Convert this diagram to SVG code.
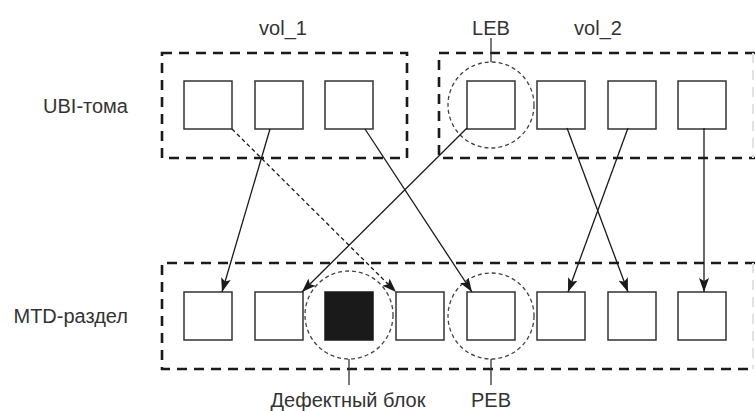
<svg xmlns="http://www.w3.org/2000/svg" width="755" height="411" viewBox="0 0 755 411">
  <defs>
    <marker id="arrow" viewBox="0 0 14 10" refX="14" refY="5" markerWidth="14" markerHeight="10" markerUnits="userSpaceOnUse" orient="auto">
      <path d="M0,0 L14,5 L0,10 L3,5 Z" fill="#1a1a1a"/>
    </marker>
  </defs>
  <style>
    .label { font-family: "Liberation Sans", Arial, sans-serif; font-size: 20px; fill: #333; }
    .group { fill: none; stroke: #1a1a1a; stroke-width: 2.6; stroke-dasharray: 10 7; }
    .group-edge { fill: none; stroke: #e2e2e2; stroke-width: 2; stroke-dasharray: 10 7; }
    .block { fill: #fff; stroke: #333; stroke-width: 1.5; }
    .bad { fill: #1a1a1a; stroke: #1a1a1a; stroke-width: 1.5; }
    .ring { fill: none; stroke: #444; stroke-width: 1.3; stroke-dasharray: 4 3; }
    .tick { stroke: #333; stroke-width: 1.3; }
    .link { fill: none; stroke: #1a1a1a; stroke-width: 1.3; marker-end: url(#arrow); }
    .link.dashed { stroke-dasharray: 4 3; }
  </style>

  <rect width="755" height="411" fill="#fff"/>

  <!-- row labels -->
  <text class="label" x="128" y="113" text-anchor="end">UBI-тома</text>
  <text class="label" x="128" y="323" text-anchor="end">MTD-раздел</text>

  <!-- volume and partition outlines -->
  <g id="vol_1">
    <rect class="group" x="162" y="53" width="245" height="105"/>
    <text class="label" x="283" y="35" text-anchor="middle">vol_1</text>
  </g>
  <g id="vol_2">
    <path class="group" d="M755,53 H439 V158 H755"/>
    <line class="group-edge" x1="753" y1="53" x2="753" y2="158"/>
    <text class="label" x="598" y="35" text-anchor="middle">vol_2</text>
  </g>
  <g id="mtd">
    <path class="group" d="M755,263 H162 V369 H755"/>
    <line class="group-edge" x1="753" y1="263" x2="753" y2="369"/>
  </g>

  <!-- logical eraseblocks -->
  <g id="leb-1-0"><rect class="block" x="184" y="81" width="48" height="48"/></g>
  <g id="leb-1-1"><rect class="block" x="255" y="81" width="48" height="48"/></g>
  <g id="leb-1-2"><rect class="block" x="325" y="81" width="48" height="48"/></g>
  <g id="leb-2-0"><rect class="block" x="467" y="81" width="48" height="48"/></g>
  <g id="leb-2-1"><rect class="block" x="537" y="81" width="48" height="48"/></g>
  <g id="leb-2-2"><rect class="block" x="608" y="81" width="48" height="48"/></g>
  <g id="leb-2-3"><rect class="block" x="678" y="81" width="48" height="48"/></g>

  <!-- physical eraseblocks -->
  <g id="peb-0"><rect class="block" x="184" y="292" width="48" height="48"/></g>
  <g id="peb-1"><rect class="block" x="255" y="292" width="48" height="48"/></g>
  <g id="peb-2"><rect class="bad" x="325" y="292" width="48" height="48"/></g>
  <g id="peb-3"><rect class="block" x="396" y="292" width="48" height="48"/></g>
  <g id="peb-4"><rect class="block" x="467" y="292" width="48" height="48"/></g>
  <g id="peb-5"><rect class="block" x="537" y="292" width="48" height="48"/></g>
  <g id="peb-6"><rect class="block" x="608" y="292" width="48" height="48"/></g>
  <g id="peb-7"><rect class="block" x="678" y="292" width="48" height="48"/></g>

  <!-- callouts -->
  <g id="leb-callout">
    <circle class="ring" cx="491" cy="105" r="43"/>
    <line class="tick" x1="491" y1="62" x2="491" y2="38"/>
    <text class="label" x="491" y="35" text-anchor="middle">LEB</text>
  </g>
  <g id="bad-callout">
    <circle class="ring" cx="349" cy="315" r="44"/>
    <line class="tick" x1="349" y1="359" x2="349" y2="385"/>
    <text class="label" x="348" y="407" text-anchor="middle">Дефектный блок</text>
  </g>
  <g id="peb-callout">
    <circle class="ring" cx="491" cy="316" r="43"/>
    <line class="tick" x1="491" y1="359" x2="491" y2="385"/>
    <text class="label" x="491" y="407" text-anchor="middle">PEB</text>
  </g>

  <!-- mappings from logical to physical blocks -->
  <g id="connectors">
    <line class="link dashed" x1="232" y1="129" x2="396" y2="292"/>
    <line class="link" x1="270" y1="129" x2="222" y2="292"/>
    <line class="link" x1="365" y1="129" x2="472" y2="292"/>
    <line class="link" x1="467" y1="128" x2="302" y2="292"/>
    <line class="link" x1="567" y1="128" x2="628" y2="292"/>
    <line class="link" x1="628" y1="128" x2="568" y2="292"/>
    <line class="link" x1="704" y1="128" x2="704" y2="292"/>
  </g>
</svg>
